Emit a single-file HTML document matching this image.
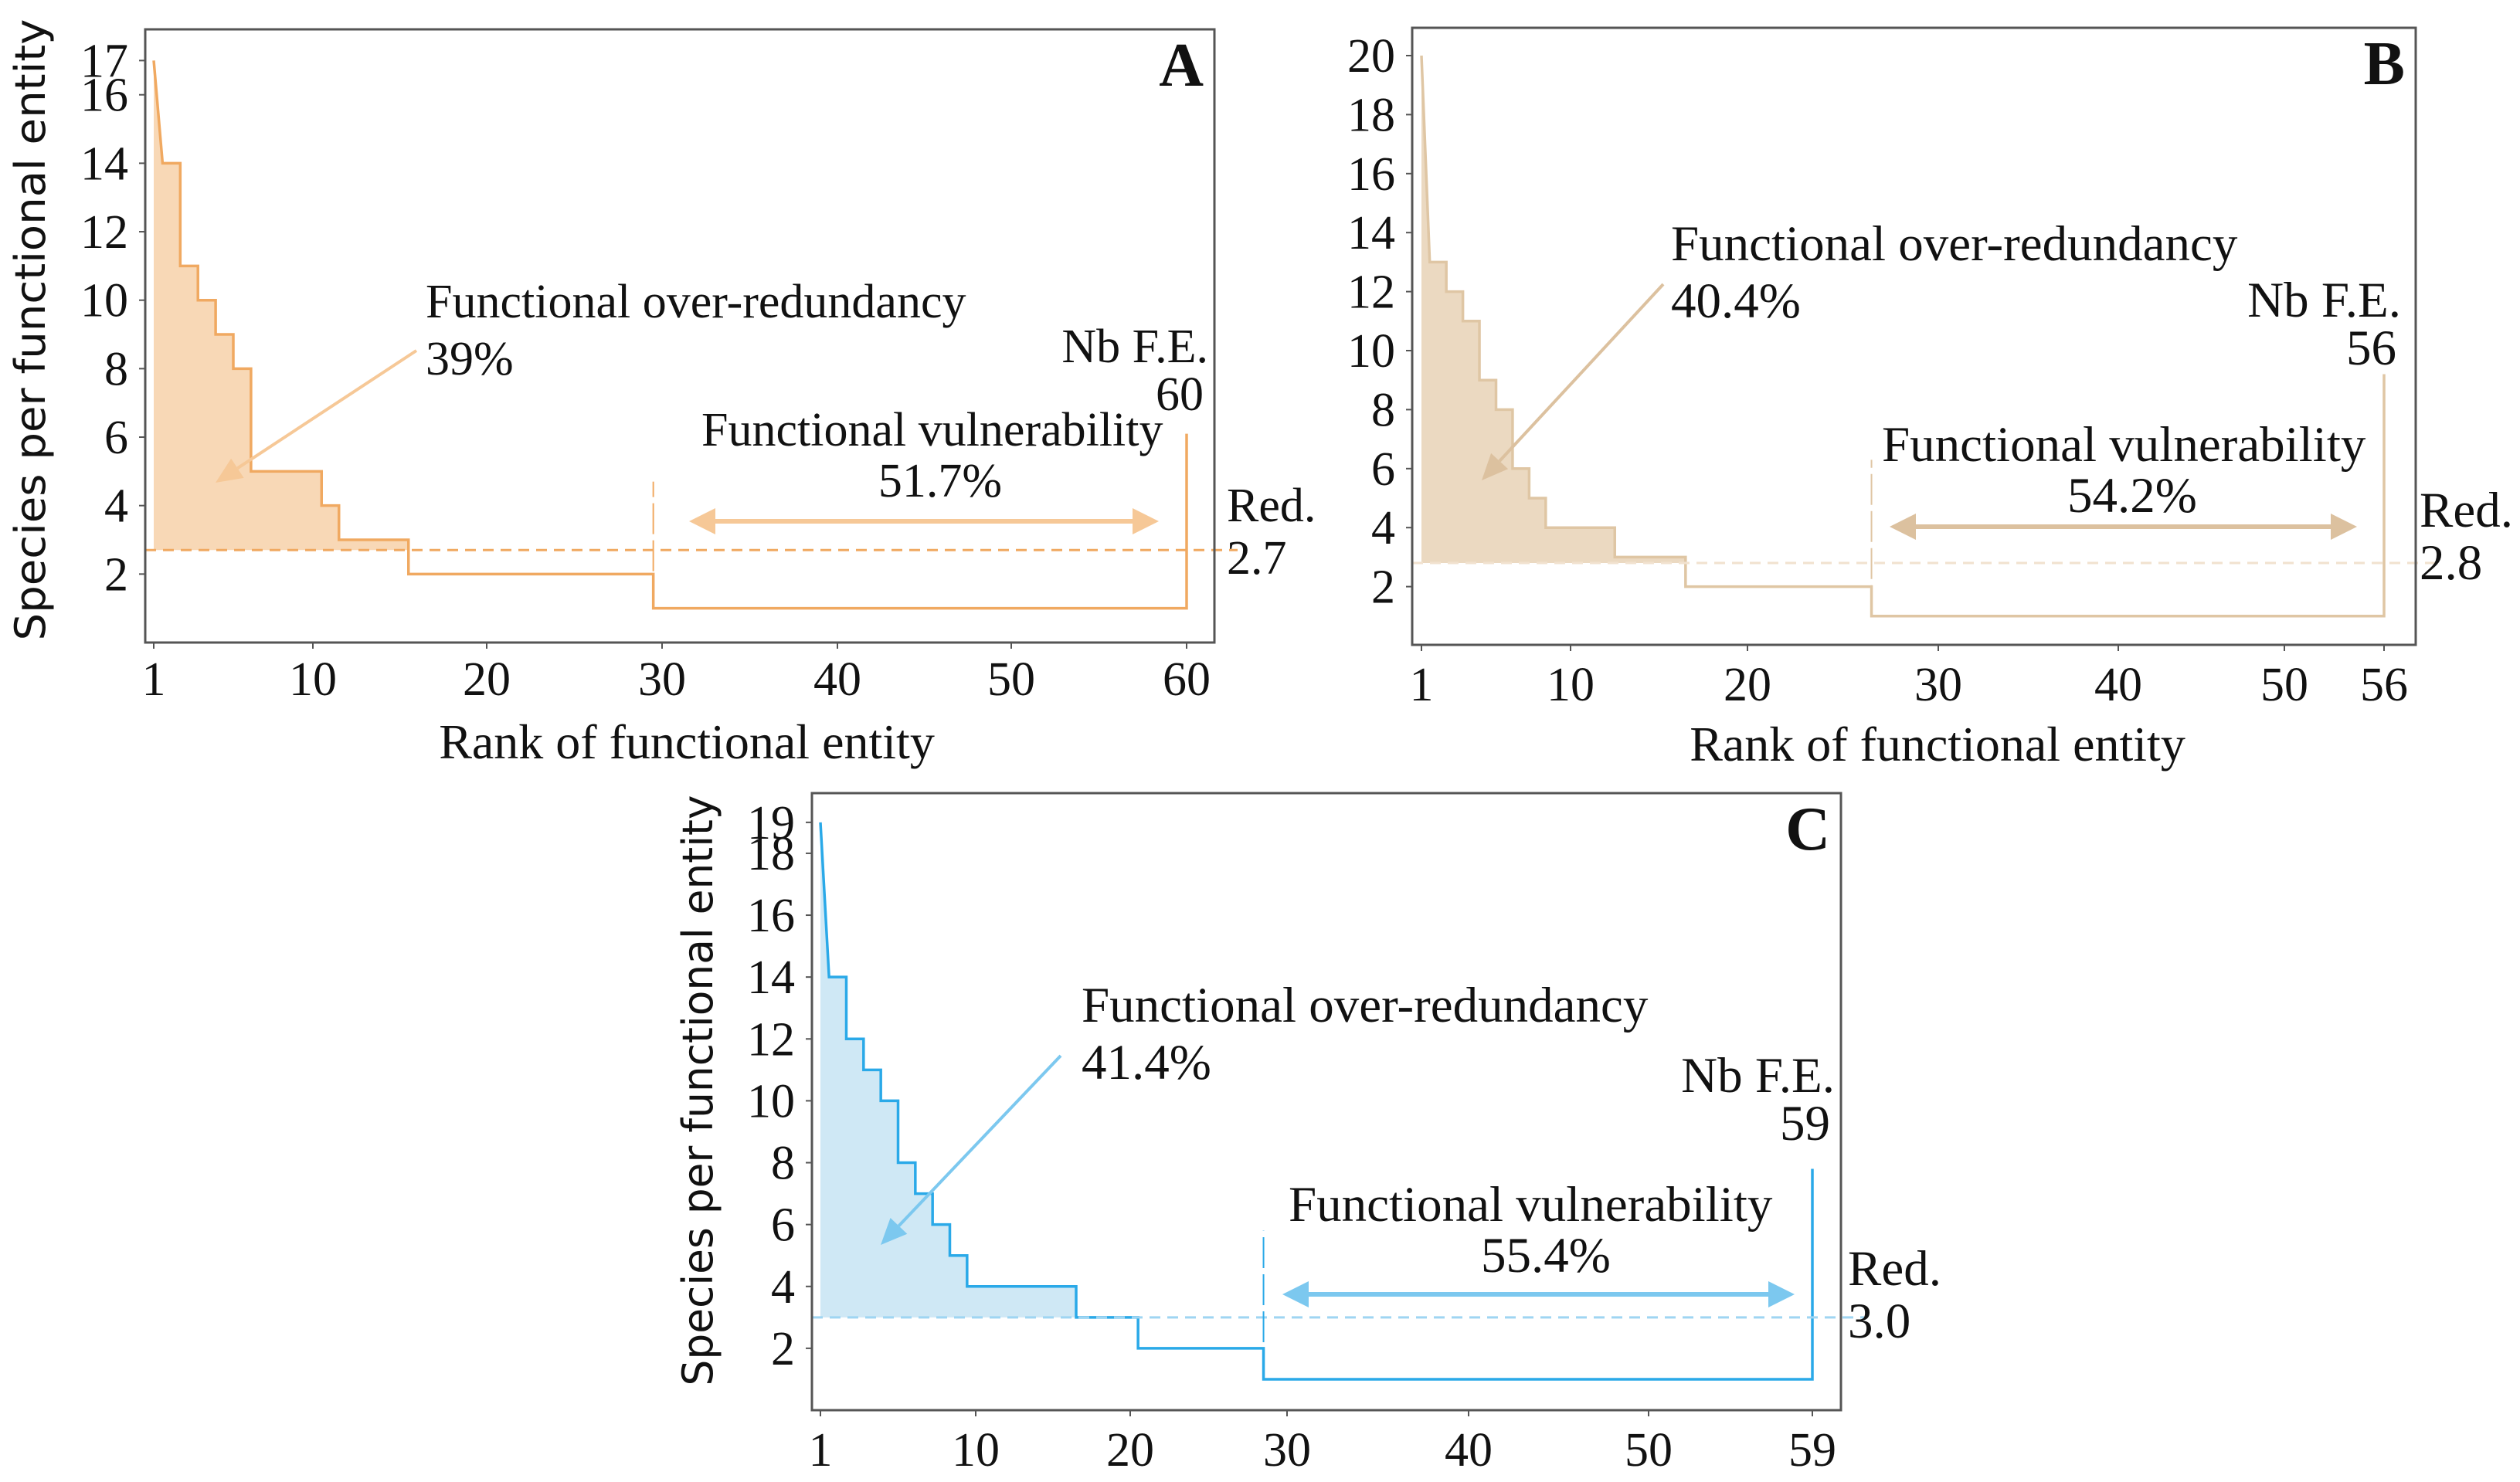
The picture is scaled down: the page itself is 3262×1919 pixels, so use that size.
<!DOCTYPE html>
<html><head><meta charset="utf-8"><style>
html,body{margin:0;padding:0;background:#fff;}
svg{display:block;}
text{font-family:"Liberation Serif",serif;fill:#111;}
</style></head><body>
<svg id="fig" width="3262" height="1919" viewBox="0 0 3262 1919" xmlns="http://www.w3.org/2000/svg"></svg>
<script>
// ---- data ----
const valuesA = [17,14,11,10,9,8,5,5,5,5,4,3,3,3,3,2,2,2,2,2,2,2,2,2,2,2,2,2,2,1,1,1,1,1,1,1,1,1,1,1,1,1,1,1,1,1,1,1,1,1,1,1,1,1,1,1,1,1,1,1];
const valuesB = [20,13,12,11,9,8,6,5,4,4,4,4,3,3,3,3,2,2,2,2,2,2,2,2,2,2,1,1,1,1,1,1,1,1,1,1,1,1,1,1,1,1,1,1,1,1,1,1,1,1,1,1,1,1,1,1];
const valuesC = [19,14,12,11,10,8,7,6,5,4,4,4,4,4,4,4,3,3,3,3,2,2,2,2,2,2,2,2,1,1,1,1,1,1,1,1,1,1,1,1,1,1,1,1,1,1,1,1,1,1,1,1,1,1,1,1,1,1,1];
const xTicksA = [1,10,20,30,40,50,60];
const xTicksB = [1,10,20,30,40,50,56];
const xTicksC = [1,10,20,30,40,50,59];
const yTicksA = [2,4,6,8,10,12,14,16,17];
const yTicksB = [2,4,6,8,10,12,14,16,18,20];
const yTicksC = [2,4,6,8,10,12,14,16,18,19];
const redA = 2.7, redB = 2.8, redC = 3.0;
const overA = "39%", overB = "40.4%", overC = "41.4%";
const vulnA = "51.7%", vulnB = "54.2%", vulnC = "55.4%";

const NS = "http://www.w3.org/2000/svg";
const svg = document.getElementById('fig');
function el(tag, attrs, parent){
  const e = document.createElementNS(NS, tag);
  for (const k in attrs) e.setAttribute(k, attrs[k]);
  (parent||svg).appendChild(e);
  return e;
}
function txt(s, x, y, size, anchor, parent, extra){
  const t = el('text', Object.assign({x:x, y:y, 'font-size':size, 'text-anchor':anchor||'start'}, extra||{}), parent);
  t.textContent = s;
  return t;
}

function panel(cfg){
  const g = el('g', {});
  
  
  const vals = cfg.values;
  const fs = cfg.fs;
  const X = v => {
    const t = cfg.xTicks, p = cfg.xTickPx;
    let i = 0;
    while (i < t.length - 2 && v > t[i+1]) i++;
    return p[i] + (v - t[i]) * (p[i+1] - p[i]) / (t[i+1] - t[i]);
  };
  const Y = v => cfg.y0 - v * cfg.yUnit;

  let d = 'M' + X(1) + ',' + Y(cfg.red) + ' L' + X(1) + ',' + Y(vals[0]);
  let endX = X(1);
  for (let i = 1; i < vals.length; i++){
    const xs = X(i + 0.5);
    if (i === 1) { d += ' L' + xs + ',' + Y(vals[1]); }
    else {
      d += ' L' + xs + ',' + Y(vals[i-1]);
      if (vals[i] <= cfg.red) { endX = xs; break; }
      d += ' L' + xs + ',' + Y(vals[i]);
    }
  }
  d += ' L' + endX + ',' + Y(cfg.red) + ' Z';
  const fill = el('path', {d:d, fill:cfg.fill, stroke:'none'}, g);
  
  

  let ld = 'M' + X(1) + ',' + Y(vals[0]) + ' L' + X(1.5) + ',' + Y(vals[1]);
  for (let i = 2; i < vals.length; i++){
    ld += ' L' + X(i + 0.5) + ',' + Y(vals[i-1]) + ' L' + X(i + 0.5) + ',' + Y(vals[i]);
  }
  ld += ' L' + X(vals.length) + ',' + Y(vals[vals.length-1]);
  ld += ' L' + X(vals.length) + ',' + Y(cfg.endTop);
  const line = el('path', {d:ld, fill:'none', stroke:cfg.line, 'stroke-width':3.5}, g);
  
  

  const rl = el('line', {x1:cfg.left, x2:cfg.right + 30, y1:Y(cfg.red), y2:Y(cfg.red), stroke:cfg.dash, 'stroke-width':3, 'stroke-dasharray':'14,9'}, g);
  
  

  const vx = X(cfg.vulnStart);
  const vl = el('line', {x1:vx, x2:vx, y1:Y(1), y2:Y(cfg.vulnTop), stroke:cfg.line, 'stroke-width':2, 'stroke-dasharray':'40,8'}, g);
  
  

  const fr = el('rect', {x:cfg.left, y:cfg.top, width:cfg.right-cfg.left, height:cfg.bottom-cfg.top, fill:'none', stroke:'#555', 'stroke-width':3}, g);
  
  

  cfg.yTicks.forEach(v => {
    const y = Y(v);
    const tk = el('line', {x1:cfg.left-8, x2:cfg.left, y1:y, y2:y, stroke:'#555', 'stroke-width':2}, g);
    
    
    const t = txt(String(v), cfg.left - 22, y + 21, 62, 'end', g);
    
    
  });
  cfg.xTicks.forEach(v => {
    const x = X(v);
    const tk = el('line', {x1:x, x2:x, y1:cfg.bottom, y2:cfg.bottom+8, stroke:'#555', 'stroke-width':2}, g);
    
    
    const t = txt(String(v), x, cfg.xLabelY, 62, 'middle', g);
    
    
  });

  if (cfg.yTitleLen) {
    const yt = txt('Species per functional entity', 0, 0, 54, 'middle', g, {
      transform:'translate(' + cfg.yTitleX + ',' + cfg.yTitleY + ') rotate(-90)',
      textLength:cfg.yTitleLen, lengthAdjust:'spacingAndGlyphs',
      style:'font-family:"DejaVu Sans","Liberation Sans",sans-serif'});
    
    
  }
  if (cfg.xTitle) {
    const xt = txt('Rank of functional entity', cfg.xTitle[0], cfg.xTitle[1], 64, 'middle', g);
    
    
  }

  const pl = txt(cfg.label, cfg.right - 14, cfg.top + 73, 80, 'end', g, {'font-weight':'bold'});
  
  

  const a1 = txt('Functional over-redundancy', cfg.overX, cfg.overY, fs, 'start', g);
  
  
  const a2 = txt(cfg.overPct, cfg.overX, cfg.overY + 74, fs, 'start', g);
  
  
  const [ax1, ay1, ax2, ay2] = cfg.overArrow;
  const ang = Math.atan2(ay2-ay1, ax2-ax1);
  const hl = 34, hw = 15;
  const bx = ax2 - hl*Math.cos(ang), by = ay2 - hl*Math.sin(ang);
  const oa = el('line', {x1:ax1, y1:ay1, x2:bx, y2:by, stroke:cfg.arrow, 'stroke-width':4}, g);
  
  
  const oh = el('polygon', {points: ax2+','+ay2+' '+(bx+hw*Math.sin(ang))+','+(by-hw*Math.cos(ang))+' '+(bx-hw*Math.sin(ang))+','+(by+hw*Math.cos(ang)), fill:cfg.arrow}, g);
  
  

  const v1 = txt('Functional vulnerability', cfg.vulnX, cfg.vulnY, fs, 'start', g);
  
  
  const v2 = txt(cfg.vulnPct, cfg.vulnPctX, cfg.vulnY + 66, fs, 'middle', g);
  
  
  const [hx1, hx2] = cfg.vulnArrow;
  const hy = cfg.vulnArrowPx;
  const va = el('line', {x1:hx1+30, x2:hx2-30, y1:hy, y2:hy, stroke:cfg.arrow, 'stroke-width':6}, g);
  
  
  const vh1 = el('polygon', {points: hx1+','+hy+' '+(hx1+34)+','+(hy-17)+' '+(hx1+34)+','+(hy+17), fill:cfg.arrow}, g);
  
  
  const vh2 = el('polygon', {points: hx2+','+hy+' '+(hx2-34)+','+(hy-17)+' '+(hx2-34)+','+(hy+17), fill:cfg.arrow}, g);
  
  

  const n1 = txt('Nb F.E.', cfg.nbRight, cfg.nbY, fs, 'end', g);
  
  
  const n2 = txt(String(vals.length), cfg.nbRight - 6, cfg.nbY + 62, fs, 'end', g);
  
  
  const r1 = txt('Red.', cfg.redX, cfg.redY, fs, 'start', g);
  
  
  const r2 = txt(cfg.red.toFixed(1), cfg.redX, cfg.redY + 68, fs, 'start', g);
  
  
}

panel({label:'A', values:valuesA, xTicks:xTicksA, yTicks:yTicksA, red:redA, fs:62,
  xTickPx:[199,405,630,857,1084,1309,1536],
  left:188, right:1572, top:38, bottom:832, y0:832, yUnit:44.33,
  fill:'#f8d8b6', line:'#f0a961', dash:'#f0a961', arrow:'#f6c897',
  endTop:6.1, vulnStart:29.5, vulnTop:4.7, xLabelY:900,
  yTitleX:58, yTitleY:427, yTitleLen:805, xTitle:[889,982],
  overX:551, overY:411, overPct:overA, overArrow:[539,454,279,625],
  vulnX:908, vulnY:577, vulnPct:vulnA, vulnPctX:1217, vulnArrow:[892,1500], vulnArrowPx:675,
  nbRight:1564, nbY:469, redX:1588, redY:675});

panel({label:'B', values:valuesB, xTicks:xTicksB, yTicks:yTicksB, red:redB, fs:65,
  xTickPx:[1840,2033,2262,2509,2742,2957,3086],
  left:1828, right:3127, top:36, bottom:835, y0:836, yUnit:38.2,
  fill:'#ebd9c1', line:'#dfc6a4', dash:'#f1e2cf', arrow:'#dcc19f',
  endTop:9.2, vulnStart:26.5, vulnTop:6.3, xLabelY:907,
  yTitleLen:0, xTitle:[2508,985],
  overX:2163, overY:337, overPct:overB, overArrow:[2153,368,1918,622],
  vulnX:2436, vulnY:597, vulnPct:vulnB, vulnPctX:2760, vulnArrow:[2446,3051], vulnArrowPx:682,
  nbRight:3108, nbY:410, redX:3132, redY:682});

panel({label:'C', values:valuesC, xTicks:xTicksC, yTicks:yTicksC, red:redC, fs:65,
  xTickPx:[1062,1263,1463,1666,1901,2134,2346],
  left:1051, right:2383, top:1027, bottom:1826, y0:1826, yUnit:40.06,
  fill:'#cfe8f5', line:'#2aa9e8', dash:'#9fd5f2', arrow:'#7cc8ef',
  endTop:7.8, vulnStart:28.5, vulnTop:5.8, xLabelY:1898,
  yTitleX:922, yTitleY:1412, yTitleLen:765, xTitle:null,
  overX:1400, overY:1323, overPct:overC, overArrow:[1373,1367,1140,1612],
  vulnX:1668, vulnY:1581, vulnPct:vulnC, vulnPctX:2001, vulnArrow:[1660,2323], vulnArrowPx:1676,
  nbRight:2375, nbY:1414, redX:2392, redY:1664});
</script>
</body></html>
